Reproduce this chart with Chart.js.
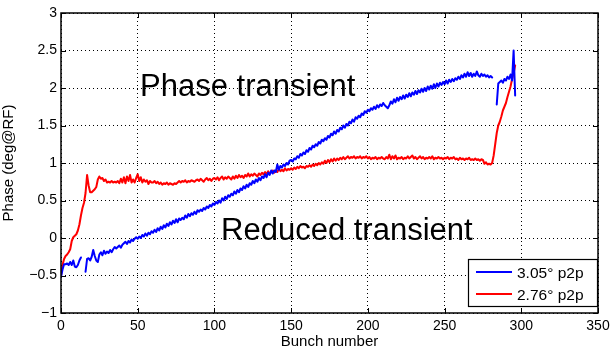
<!DOCTYPE html>
<html>
<head>
<meta charset="utf-8">
<script src="https://cdn.jsdelivr.net/npm/chart.js@4.4.1/dist/chart.umd.min.js"></script>
<style>
  html, body { margin: 0; padding: 0; background: #fff; }
  #wrap { width: 610px; height: 351px; position: relative; }
</style>
</head>
<body>
<div id="wrap"><canvas id="phaseChart"></canvas></div>
<script>
// phase per bunch, index = bunch number (null = no reading)
var bluePhase = [
  -0.52, -0.42, -0.35, -0.35, -0.34, -0.36, -0.32, -0.36, -0.30, -0.38,
  -0.39, -0.36, -0.30, -0.26, null, null, -0.45, -0.28, -0.27, -0.30,
  -0.25, -0.16, -0.24, -0.30, -0.32, -0.22, -0.19, -0.23, -0.17, -0.21,
  -0.18, -0.20, -0.16, -0.19, -0.15, -0.12, -0.14, -0.12, -0.10, -0.13,
  -0.09, -0.07, -0.05, -0.08, -0.04, -0.06, -0.02, -0.04, -0.01, 0.01,
  -0.01, 0.02, 0.00, 0.04, 0.02, 0.06, 0.03, 0.07, 0.05, 0.09,
  0.07, 0.11, 0.08, 0.13, 0.10, 0.15, 0.12, 0.17, 0.14, 0.19,
  0.16, 0.21, 0.18, 0.23, 0.20, 0.25, 0.21, 0.26, 0.24, 0.27,
  0.25, 0.30, 0.27, 0.32, 0.29, 0.33, 0.31, 0.35, 0.32, 0.37,
  0.35, 0.38, 0.36, 0.40, 0.38, 0.42, 0.40, 0.44, 0.42, 0.46,
  0.44, 0.48, 0.46, 0.50, 0.47, 0.53, 0.50, 0.55, 0.52, 0.57,
  0.55, 0.59, 0.57, 0.62, 0.59, 0.64, 0.61, 0.66, 0.64, 0.69,
  0.66, 0.71, 0.68, 0.73, 0.71, 0.76, 0.73, 0.78, 0.75, 0.80,
  0.77, 0.82, 0.80, 0.85, 0.81, 0.87, 0.84, 0.90, 0.86, 0.90,
  0.88, 0.98, 0.91, 0.96, 0.94, 0.98, 0.96, 1.00, 0.98, 1.03,
  1.04, 1.02, 1.06, 1.05, 1.09, 1.07, 1.12, 1.10, 1.14, 1.12,
  1.17, 1.15, 1.20, 1.18, 1.23, 1.21, 1.25, 1.23, 1.28, 1.26,
  1.31, 1.29, 1.33, 1.31, 1.36, 1.34, 1.39, 1.37, 1.42, 1.39,
  1.44, 1.42, 1.47, 1.45, 1.50, 1.47, 1.52, 1.50, 1.55, 1.53,
  1.58, 1.55, 1.61, 1.59, 1.63, 1.61, 1.66, 1.64, 1.69, 1.67,
  1.71, 1.69, 1.73, 1.71, 1.75, 1.72, 1.77, 1.74, 1.78, 1.76,
  1.80, 1.77, 1.75, 1.73, 1.77, 1.82, 1.79, 1.85, 1.81, 1.87,
  1.83, 1.88, 1.85, 1.90, 1.86, 1.91, 1.88, 1.93, 1.89, 1.94,
  1.91, 1.96, 1.92, 1.97, 1.94, 1.99, 1.95, 2.00, 1.96, 2.02,
  1.98, 2.03, 1.99, 2.05, 2.00, 2.06, 2.02, 2.07, 2.04, 2.08,
  2.05, 2.10, 2.06, 2.11, 2.08, 2.12, 2.09, 2.13, 2.11, 2.15,
  2.12, 2.17, 2.14, 2.19, 2.15, 2.21, 2.16, 2.20, 2.15, 2.19,
  2.16, 2.22, 2.17, 2.15, 2.19, 2.16, 2.18, 2.15, 2.17, 2.14,
  2.16, 2.14, null, null, 1.78, 2.06, 2.08, 2.10, 2.07, 2.12,
  2.10, 2.15, 2.12, 2.18, 2.10, 2.50, 1.90
];

var redPhase = [
  -0.50, -0.36, -0.28, -0.24, -0.22, -0.19, -0.15, -0.04, 0.01, 0.03,
  0.05, 0.10, 0.18, 0.30, 0.40, 0.47, 0.60, 0.84, 0.70, 0.61,
  0.61, 0.63, 0.65, 0.68, 0.78, 0.82, 0.79, 0.80, 0.76, 0.78,
  0.74, 0.75, 0.74, 0.76, 0.74, 0.75, 0.74, 0.76, 0.73, 0.79,
  0.74, 0.81, 0.73, 0.82, 0.76, 0.84, 0.74, 0.78, 0.74, 0.80,
  0.85, 0.76, 0.81, 0.74, 0.78, 0.75, 0.77, 0.72, 0.76, 0.74,
  0.74, 0.76, 0.73, 0.75, 0.72, 0.74, 0.71, 0.73, 0.72, 0.74,
  0.71, 0.73, 0.72, 0.71, 0.73, 0.72, 0.74, 0.76, 0.74, 0.76,
  0.75, 0.77, 0.74, 0.76, 0.75, 0.77, 0.76, 0.75, 0.77, 0.78,
  0.76, 0.79, 0.77, 0.75, 0.78, 0.80, 0.77, 0.79, 0.76, 0.79,
  0.80, 0.78, 0.81, 0.77, 0.80, 0.82, 0.78, 0.81, 0.79, 0.82,
  0.80, 0.78, 0.82, 0.79, 0.83, 0.80, 0.84, 0.81, 0.83, 0.80,
  0.84, 0.82, 0.86, 0.82, 0.85, 0.83, 0.86, 0.84, 0.82, 0.86,
  0.84, 0.87, 0.85, 0.88, 0.85, 0.89, 0.86, 0.88, 0.90, 0.87,
  0.90, 0.88, 0.92, 0.89, 0.91, 0.89, 0.93, 0.90, 0.92, 0.91,
  0.93, 0.91, 0.94, 0.92, 0.95, 0.93, 0.96, 0.94, 0.95, 0.93,
  0.96, 0.95, 0.97, 0.95, 0.98, 0.96, 0.99, 0.97, 1.00, 0.98,
  1.01, 0.99, 1.03, 1.00, 1.04, 1.01, 1.05, 1.02, 1.06, 1.03,
  1.06, 1.04, 1.07, 1.05, 1.08, 1.05, 1.07, 1.09, 1.06, 1.08,
  1.07, 1.09, 1.06, 1.08, 1.07, 1.09, 1.06, 1.08, 1.07, 1.09,
  1.06, 1.08, 1.05, 1.07, 1.06, 1.08, 1.05, 1.07, 1.06, 1.08,
  1.06, 1.05, 1.08, 1.06, 1.11, 1.05, 1.09, 1.06, 1.10, 1.05,
  1.07, 1.06, 1.08, 1.05, 1.07, 1.06, 1.09, 1.06, 1.08, 1.10,
  1.06, 1.08, 1.05, 1.07, 1.09, 1.06, 1.08, 1.05, 1.07, 1.06,
  1.08, 1.06, 1.09, 1.05, 1.07, 1.06, 1.08, 1.06, 1.07, 1.05,
  1.07, 1.06, 1.08, 1.05, 1.07, 1.06, 1.08, 1.05, 1.06, 1.04,
  1.07, 1.05, 1.06, 1.04, 1.06, 1.05, 1.07, 1.04, 1.05, 1.04,
  1.06, 1.04, 1.05, 1.03, 1.05, 1.04, 0.99, 1.01, 0.98, 0.99,
  0.98, 1.00, 1.10, 1.25, 1.40, 1.50, 1.55, 1.62, 1.70, 1.75,
  1.80, 1.88, 1.95, 2.02, 2.12, 2.20, 2.30
];

var seriesNames = ['3.05\u00b0 p2p', '2.76\u00b0 p2p'];
var seriesColors = ['#0000ff', '#ff0000'];

var xTicks = [0, 50, 100, 150, 200, 250, 300, 350];
var yTicks = [-1, -0.5, 0, 0.5, 1, 1.5, 2, 2.5, 3];

// text notes, in data units (left edge, baseline)
var notes = [
  { text: 'Phase transient', x: 51.5, y: 1.89 },
  { text: 'Reduced transient', x: 104.3, y: -0.03 }
];

var FONT = '"Liberation Sans", Arial, Helvetica, sans-serif';

function toPoints(vals) {
  return vals.map(function(v, i) { return { x: i, y: v }; });
}

function fmt(v) {
  var s = String(v);
  return v < 0 ? '\u2212' + s.slice(1) : s;
}

var matlabLook = {
  id: 'matlabLook',
  beforeDatasetsDraw: function(chart) {
    var ctx = chart.ctx;
    var xs = chart.scales.x, ys = chart.scales.y;
    ctx.save();
    ctx.fillStyle = '#000';
    ctx.font = '31px ' + FONT;
    ctx.textBaseline = 'alphabetic';
    ctx.textAlign = 'left';
    notes.forEach(function(n) {
      ctx.fillText(n.text, xs.getPixelForValue(n.x), ys.getPixelForValue(n.y));
    });
    ctx.restore();
  },
  afterDraw: function(chart) {
    var ctx = chart.ctx;
    var a = chart.chartArea;
    var xs = chart.scales.x, ys = chart.scales.y;
    ctx.save();
    ctx.strokeStyle = '#000';
    ctx.lineWidth = 1.5;
    ctx.strokeRect(a.left, a.top, a.right - a.left, a.bottom - a.top);

    // inward tick marks on all four sides
    ctx.lineWidth = 1;
    var tl = 5;
    ctx.beginPath();
    xTicks.forEach(function(t) {
      var px = Math.round(xs.getPixelForValue(t)) + 0.5;
      ctx.moveTo(px, a.bottom); ctx.lineTo(px, a.bottom - tl);
      ctx.moveTo(px, a.top); ctx.lineTo(px, a.top + tl);
    });
    yTicks.forEach(function(t) {
      var py = Math.round(ys.getPixelForValue(t)) + 0.5;
      ctx.moveTo(a.left, py); ctx.lineTo(a.left + tl, py);
      ctx.moveTo(a.right, py); ctx.lineTo(a.right - tl, py);
    });
    ctx.stroke();

    // legend box, lower right
    var bw = 130, bh = 48;
    var bx = a.right - bw, by = a.bottom - 6 - bh;
    ctx.fillStyle = '#fff';
    ctx.fillRect(bx, by, bw, bh);
    ctx.lineWidth = 1.2;
    ctx.strokeRect(bx + 0.5, by + 0.5, bw - 1, bh - 1);
    ctx.font = '15.5px ' + FONT;
    ctx.textBaseline = 'alphabetic';
    ctx.textAlign = 'left';
    seriesNames.forEach(function(name, i) {
      var ly = by + 13 + i * 22;
      ctx.strokeStyle = seriesColors[i];
      ctx.lineWidth = 2;
      ctx.beginPath();
      ctx.moveTo(bx + 8, ly); ctx.lineTo(bx + 44, ly);
      ctx.stroke();
      ctx.fillStyle = '#000';
      ctx.fillText(name, bx + 49, ly + 6);
    });
    ctx.restore();
  }
};

var dotted = [1, 3];

var config = {
  type: 'line',
  data: {
    datasets: [
      { label: seriesNames[0], data: toPoints(bluePhase), borderColor: seriesColors[0] },
      { label: seriesNames[1], data: toPoints(redPhase), borderColor: seriesColors[1] }
    ]
  },
  options: {
    responsive: true,
    maintainAspectRatio: false,
    animation: false,
    spanGaps: false,
    layout: { padding: { top: 13, right: 12, left: 0, bottom: 0 } },
    elements: {
      point: { radius: 0 },
      line: { borderWidth: 2, tension: 0, fill: false, borderJoinStyle: 'round', borderCapStyle: 'round' }
    },
    plugins: {
      legend: { display: false },
      tooltip: { enabled: false }
    },
    scales: {
      x: {
        type: 'linear',
        min: 0, max: 350,
        afterFit: function(s) { s.height = 38; s.paddingLeft = 0; s.paddingRight = 0; },
        afterBuildTicks: function(s) { s.ticks = xTicks.map(function(v) { return { value: v }; }); },
        grid: { color: '#000', lineWidth: 1, drawTicks: false, borderDash: dotted },
        border: { display: false, dash: dotted },
        ticks: { color: '#000', font: { family: FONT, size: 14 }, padding: 5, maxRotation: 0 },
        title: { display: true, text: 'Bunch number', color: '#000', font: { family: FONT, size: 15 }, padding: 0 }
      },
      y: {
        type: 'linear',
        min: -1, max: 3,
        afterFit: function(s) { s.width = 61; s.paddingTop = 0; s.paddingBottom = 0; },
        afterBuildTicks: function(s) { s.ticks = yTicks.map(function(v) { return { value: v }; }); },
        grid: { color: '#000', lineWidth: 1, drawTicks: false, borderDash: dotted },
        border: { display: false, dash: dotted },
        ticks: { color: '#000', font: { family: FONT, size: 14 }, padding: 4, callback: function(v) { return fmt(v); } },
        title: { display: true, text: 'Phase (deg@RF)', color: '#000', font: { family: FONT, size: 15 }, padding: 0 }
      }
    }
  },
  plugins: [matlabLook]
};

window.onload = function() {
  var ctx = document.getElementById('phaseChart').getContext('2d');
  window.phaseChart = new Chart(ctx, config);
};
</script>
</body>
</html>
